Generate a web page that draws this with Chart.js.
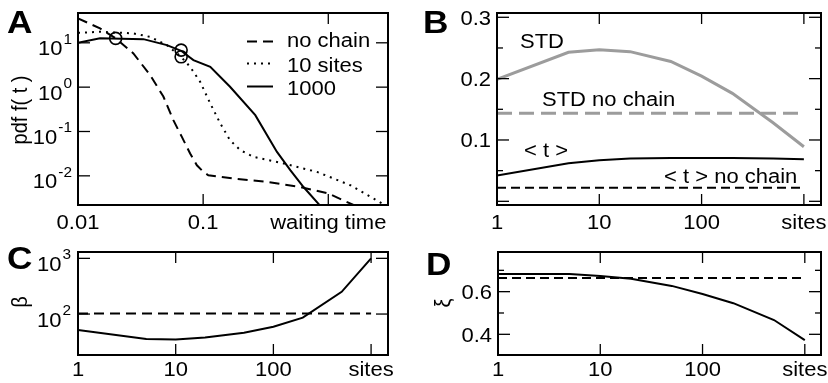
<!DOCTYPE html>
<html>
<head>
<meta charset="utf-8">
<script src="https://cdn.jsdelivr.net/npm/chart.js@4.4.1/dist/chart.umd.min.js"></script>
<style>
  body { margin: 0; background: #fff; }
  #wrap { position: relative; width: 828px; height: 383px; }
  #wrap canvas { position: absolute; left: 0; top: 0; }
</style>
</head>
<body>
<div id="wrap">
  <canvas id="panelA" width="828" height="383"></canvas>
  <canvas id="panelB" width="828" height="383"></canvas>
  <canvas id="panelC" width="828" height="383"></canvas>
  <canvas id="panelD" width="828" height="383"></canvas>
</div>
<script>
// ---- A: waiting-time pdf ----
const tNoChain   = [0.01, 0.015, 0.02, 0.0277, 0.0377, 0.0481, 0.0578, 0.0676, 0.0787, 0.0891, 0.1005, 0.11, 0.175, 0.323, 0.597, 1.0, 1.59, 1.9];
const pdfNoChain = [35.6, 21.1, 12.6, 5.77, 1.87, 0.614, 0.18, 0.0755, 0.0318, 0.0173, 0.01225, 0.0103, 0.0087, 0.0073, 0.0056, 0.004, 0.0022, 0.0017];
const tTen   = [0.01, 0.015, 0.0277, 0.0377, 0.0513, 0.0667, 0.0787, 0.0946, 0.114, 0.137, 0.164, 0.198, 0.253, 0.44, 0.813, 1.5, 2.69, 3.0];
const pdfTen = [16.8, 17.7, 16.3, 13.6, 8.87, 4.83, 2.87, 1.32, 0.429, 0.152, 0.0637, 0.0379, 0.0267, 0.019, 0.01225, 0.00614, 0.00237, 0.0019];
const tThousand   = [0.01, 0.015, 0.0333, 0.0513, 0.0667, 0.0836, 0.114, 0.164, 0.261, 0.389, 0.497, 0.634, 0.851, 0.95];
const pdfThousand = [10, 12.6, 12.1, 8.87, 6.6, 4.06, 2.87, 1.02, 0.233, 0.0346, 0.0134, 0.0056, 0.0022, 0.0012];
const tMarked   = [0.02, 0.0667, 0.0667];
const pdfMarked = [12.6, 6.84, 4.83];
const timeTicks  = [0.01, 0.1, 1];
const timeLabels = ['0.01', '0.1', 'waiting time'];
const pdfTicks = [0.01, 0.1, 1, 10];
const pdfExps  = ['-2', '-1', '0', '1'];

// ---- B-D: statistics vs number of sites ----
const sites      = [1, 5, 10, 20, 50, 100, 200, 500, 1000];
const stdChain   = [0.199, 0.243, 0.247, 0.244, 0.228, 0.204, 0.176, 0.128, 0.089];
const meanChain  = [0.042, 0.062, 0.067, 0.070, 0.0705, 0.0707, 0.0707, 0.070, 0.0686];
const stdNoChain  = 0.1435;
const meanNoChain = 0.0223;
const betaChain   = [51.6, 35.5, 35, 38, 46, 59, 86, 251, 1000];
const betaNoChain = 102;
const xiChain   = [0.683, 0.683, 0.674, 0.661, 0.627, 0.589, 0.546, 0.467, 0.373];
const xiNoChain = 0.664;
const siteTicks  = [1, 10, 100, 1000];
const siteLabels = ['1', '10', '100', 'sites'];
const momentTicks  = [0, 0.05, 0.1, 0.15, 0.2, 0.25, 0.3];
const momentLabels = ['', '', '0.1', '', '0.2', '', '0.3'];
const betaTicks = [100, 1000];
const betaExps  = ['2', '3'];
const xiTicks  = [0.4, 0.5, 0.6, 0.7];
const xiLabels = ['0.4', '', '0.6', ''];

const W = 828, H = 383;
const SX = 1.1; // text is a little wide in this figure
const FONT = '"Liberation Sans", Arial, Helvetica, sans-serif';
const GREY = '#9c9c9c';

function pts(xs, ys) {
  return xs.map((x, i) => ({ x: x, y: Array.isArray(ys) ? ys[i] : ys }));
}

function text(ctx, s, x, y, size, align, bold) {
  ctx.save();
  ctx.font = (bold ? 'bold ' : '') + size + 'px ' + FONT;
  ctx.fillStyle = '#000';
  ctx.textBaseline = 'alphabetic';
  ctx.translate(x, y);
  ctx.scale(SX, 1);
  ctx.textAlign = align || 'left';
  ctx.fillText(s, 0, 0);
  ctx.restore();
}

function textWidth(ctx, s, size) {
  ctx.save();
  ctx.font = size + 'px ' + FONT;
  const w = ctx.measureText(s).width * SX;
  ctx.restore();
  return w;
}

function rotText(ctx, s, cx, cy, size) {
  ctx.save();
  ctx.font = size + 'px ' + FONT;
  ctx.fillStyle = '#000';
  ctx.translate(cx, cy);
  ctx.scale(SX, 1);
  ctx.rotate(-Math.PI / 2);
  ctx.textAlign = 'center';
  ctx.textBaseline = 'middle';
  ctx.fillText(s, 0, 0);
  ctx.restore();
}

function seg(ctx, x1, y1, x2, y2) {
  ctx.beginPath();
  ctx.moveTo(x1, y1);
  ctx.lineTo(x2, y2);
  ctx.stroke();
}

// frame, inward ticks on all four sides, tick labels and panel annotations
function panelDecor(spec) {
  return {
    id: 'panelDecor',
    afterDraw(chart) {
      const ctx = chart.ctx, a = chart.chartArea;
      const xs = chart.scales.x, ys = chart.scales.y;
      ctx.save();
      ctx.strokeStyle = '#000';
      ctx.lineWidth = 1.3;
      spec.xTicks.forEach(v => {
        const px = xs.getPixelForValue(v);
        seg(ctx, px, a.bottom, px, a.bottom - 11);
        seg(ctx, px, a.top, px, a.top + 11);
      });
      spec.yTicks.forEach((v, i) => {
        const py = ys.getPixelForValue(v);
        const len = spec.yMinor && spec.yMinor[i] ? 6 : 12;
        seg(ctx, a.left, py, a.left + len, py);
        seg(ctx, a.right, py, a.right - len, py);
      });
      ctx.lineWidth = 2;
      ctx.strokeRect(a.left, a.top, a.right - a.left, a.bottom - a.top);

      spec.xTicks.forEach((v, i) => {
        text(ctx, spec.xLabels[i], xs.getPixelForValue(v), spec.xLabelY, 20, 'center');
      });
      spec.yTicks.forEach((v, i) => {
        const py = ys.getPixelForValue(v);
        if (spec.yExps) {
          const ew = textWidth(ctx, spec.yExps[i], 14);
          const right = a.left - spec.yGap;
          text(ctx, spec.yExps[i], right - ew, py + 1, 14, 'left');
          text(ctx, '10', right - ew - 1, py + 12.5, 20, 'right');
        } else if (spec.yLabels[i]) {
          text(ctx, spec.yLabels[i], a.left - spec.yGap, py + 7.5, 20, 'right');
        }
      });
      if (spec.yTitle) rotText(ctx, spec.yTitle.s, spec.yTitle.x, spec.yTitle.y, 20);
      (spec.notes || []).forEach(n => text(ctx, n.s, n.x, n.y, 20, 'left'));
      text(ctx, spec.letter.s, spec.letter.x, spec.letter.y, 32, 'left', true);
      if (spec.legend) spec.legend(chart, ctx);
      ctx.restore();
    }
  };
}

function baseOptions(area, xScale, yScale) {
  return {
    responsive: false,
    animation: false,
    events: [],
    layout: { padding: { left: area.left, top: area.top, right: W - area.right, bottom: H - area.bottom } },
    elements: { point: { radius: 0 }, line: { tension: 0 } },
    plugins: { legend: { display: false }, tooltip: { enabled: false } },
    scales: {
      x: Object.assign({ display: false }, xScale),
      y: Object.assign({ display: false }, yScale)
    }
  };
}

function lineSet(data, color, width, dash) {
  return { data: data, borderColor: color, borderWidth: width, borderDash: dash || [], fill: false, pointRadius: 0 };
}

// ---------- A ----------
const legendRows = [
  { label: 'no chain', line: 41.5, base: 47 },
  { label: '10 sites', line: 63.5, base: 71.5 },
  { label: '1000',     line: 86.5, base: 95 }
];

new Chart(document.getElementById('panelA'), {
  type: 'line',
  data: {
    datasets: [
      lineSet(pts(tNoChain, pdfNoChain), '#000', 2, [10, 6]),
      lineSet(pts(tTen, pdfTen), '#000', 2, [2, 5]),
      lineSet(pts(tThousand, pdfThousand), '#000', 2),
      {
        data: pts(tMarked, pdfMarked), showLine: false,
        pointRadius: 6, pointBorderWidth: 1.6, pointBorderColor: '#000',
        pointBackgroundColor: 'rgba(0,0,0,0)'
      }
    ]
  },
  options: baseOptions({ left: 78, top: 13, right: 388, bottom: 205 },
    { type: 'logarithmic', min: 0.01, max: 3.0 },
    { type: 'logarithmic', min: 0.0022, max: 47 }),
  plugins: [panelDecor({
    xTicks: timeTicks, xLabels: timeLabels, xLabelY: 229,
    yTicks: pdfTicks, yExps: pdfExps, yGap: 6,
    yTitle: { s: 'pdf f( t )', x: 20.5, y: 110 },
    letter: { s: 'A', x: 7, y: 33 },
    legend(chart, ctx) {
      legendRows.forEach((r, i) => {
        const ds = chart.data.datasets[i];
        ctx.save();
        ctx.strokeStyle = ds.borderColor;
        ctx.lineWidth = ds.borderWidth;
        ctx.setLineDash(ds.borderDash);
        seg(ctx, 247, r.line, 273, r.line);
        ctx.restore();
        text(ctx, r.label, 287, r.base, 20, 'left');
      });
    }
  })]
});

// ---------- B ----------
new Chart(document.getElementById('panelB'), {
  type: 'line',
  data: {
    datasets: [
      lineSet(pts(sites, stdChain), GREY, 3),
      lineSet(pts([1, 1000], stdNoChain), GREY, 3, [15, 7]),
      lineSet(pts(sites, meanChain), '#000', 2),
      lineSet(pts([1, 1000], meanNoChain), '#000', 2, [9, 5])
    ]
  },
  options: baseOptions({ left: 497, top: 13, right: 821, bottom: 205 },
    { type: 'logarithmic', min: 1, max: 1470 },
    { type: 'linear', min: -0.006, max: 0.307 }),
  plugins: [panelDecor({
    xTicks: siteTicks, xLabels: siteLabels, xLabelY: 228.5,
    yTicks: momentTicks, yLabels: momentLabels, yGap: 6,
    yMinor: momentTicks.map((v, i) => i % 2 === 1),
    notes: [
      { s: 'STD', x: 520, y: 48 },
      { s: 'STD no chain', x: 542, y: 106 },
      { s: '< t >', x: 524, y: 157 },
      { s: '< t > no chain', x: 664, y: 183 }
    ],
    letter: { s: 'B', x: 423, y: 33 }
  })]
});

// ---------- C ----------
new Chart(document.getElementById('panelC'), {
  type: 'line',
  data: {
    datasets: [
      lineSet(pts(sites, betaChain), '#000', 2),
      lineSet(pts([1, 1000], betaNoChain), '#000', 2, [10, 6])
    ]
  },
  options: baseOptions({ left: 78, top: 252, right: 388, bottom: 355 },
    { type: 'logarithmic', min: 1, max: 1490 },
    { type: 'logarithmic', min: 18.4, max: 1300 }),
  plugins: [panelDecor({
    xTicks: siteTicks, xLabels: siteLabels, xLabelY: 376,
    yTicks: betaTicks, yExps: betaExps, yGap: 7,
    yTitle: { s: 'β', x: 21, y: 302 },
    letter: { s: 'C', x: 7, y: 269 }
  })]
});

// ---------- D ----------
new Chart(document.getElementById('panelD'), {
  type: 'line',
  data: {
    datasets: [
      lineSet(pts(sites, xiChain), '#000', 2),
      lineSet(pts([1, 1000], xiNoChain), '#000', 2, [9, 5])
    ]
  },
  options: baseOptions({ left: 498, top: 252, right: 821, bottom: 355 },
    { type: 'logarithmic', min: 1, max: 1440 },
    { type: 'linear', min: 0.303, max: 0.786 }),
  plugins: [panelDecor({
    xTicks: siteTicks, xLabels: siteLabels, xLabelY: 376,
    yTicks: xiTicks, yLabels: xiLabels, yGap: 6,
    yMinor: xiTicks.map((v, i) => i % 2 === 1),
    yTitle: { s: 'ξ', x: 443.5, y: 303 },
    letter: { s: 'D', x: 426, y: 275 }
  })]
});
</script>
</body>
</html>
